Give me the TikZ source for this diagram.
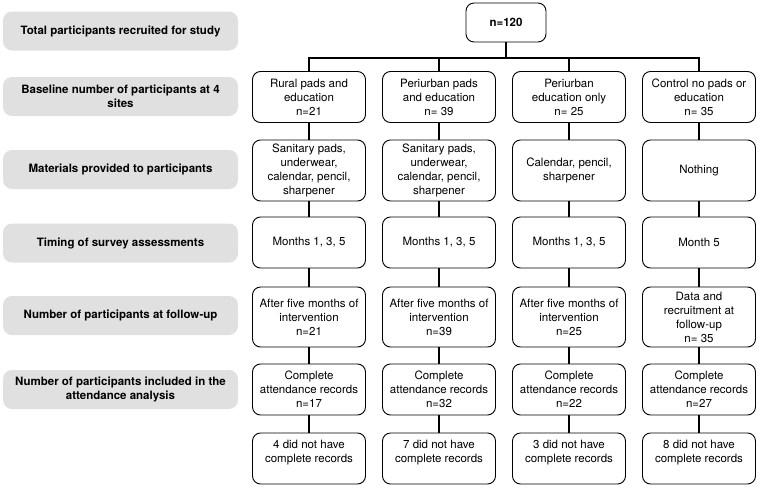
\documentclass[tikz,border=0pt]{standalone}
\usepackage{fontspec}
\setmainfont{TeX Gyre Heros}
\definecolor{labelgrey}{RGB}{224,224,224}
\begin{document}
\begin{tikzpicture}[x=1pt,y=-1pt,
    font=\fontsize{11.5}{14}\selectfont,
    rowlabel/.style={fill=labelgrey,rounded corners=9pt,minimum width=235pt,
      minimum height=39pt,align=center,inner sep=0pt,
      font=\fontsize{11.5}{14}\selectfont\bfseries},
    armbox/.style={draw,rounded corners=8pt,minimum width=113pt,
      align=center,inner sep=0pt,line width=0.9pt}]

  \useasboundingbox (0,0) rectangle (761,488);

  % row labels on the left
  \begin{scope}[every node/.style={rowlabel}]
    \node (L1) at (120.5,31)    {Total participants recruited for study};
    \node (L2) at (120.5,96.5)  {Baseline number of participants at 4\\sites};
    \node (L3) at (120.5,169.5) {Materials provided to participants};
    \node (L4) at (120.5,243)   {Timing of survey assessments};
    \node (L5) at (120.5,315.5) {Number of participants at follow-up};
    \node (L6) at (120.5,389.5) {Number of participants included in the\\attendance analysis};
  \end{scope}

  \node[armbox,minimum width=80pt,minimum height=39pt,font=\fontsize{11.5}{14}\selectfont\bfseries]
    (top) at (506,22.5) {n=120};
  \coordinate (split) at (506,58);

  \begin{scope}[every node/.style={armbox}]
    % sites
    \node[minimum height=51pt] (A1) at (309,97) {Rural pads and\\education\\n=21};
    \node[minimum height=51pt] (A2) at (439,97) {Periurban pads\\and education\\n= 39};
    \node[minimum height=51pt] (A3) at (569,97) {Periurban\\education only\\n= 25};
    \node[minimum height=51pt] (A4) at (699,97) {Control no pads or\\education\\n= 35};
    % materials
    \node[minimum height=61pt] (B1) at (309,170.5) {Sanitary pads,\\underwear,\\calendar, pencil,\\sharpener};
    \node[minimum height=61pt] (B2) at (439,170.5) {Sanitary pads,\\underwear,\\calendar, pencil,\\sharpener};
    \node[minimum height=61pt] (B3) at (569,170.5) {Calendar, pencil,\\sharpener};
    \node[minimum height=61pt] (B4) at (699,170.5) {Nothing};
    % timing
    \node[minimum height=51pt] (C1) at (309,242.5) {Months 1, 3, 5};
    \node[minimum height=51pt] (C2) at (439,242.5) {Months 1, 3, 5};
    \node[minimum height=51pt] (C3) at (569,242.5) {Months 1, 3, 5};
    \node[minimum height=51pt] (C4) at (699,242.5) {Month 5};
    % follow-up
    \node[minimum height=60pt] (D1) at (309,317) {After five months of\\intervention\\n=21};
    \node[minimum height=60pt] (D2) at (439,317) {After five months of\\intervention\\n=39};
    \node[minimum height=60pt] (D3) at (569,317) {After five months of\\intervention\\n=25};
    \node[minimum height=60pt] (D4) at (699,317) {Data and\\recruitment at\\follow-up\\n= 35};
    % attendance
    \node[minimum height=51pt] (E1) at (309,389.5) {Complete\\attendance records\\n=17};
    \node[minimum height=51pt] (E2) at (439,389.5) {Complete\\attendance records\\n=32};
    \node[minimum height=51pt] (E3) at (569,389.5) {Complete\\attendance records\\n=22};
    \node[minimum height=51pt] (E4) at (699,389.5) {Complete\\attendance records\\n=27};
    % missing records
    \node[minimum height=51pt] (F1) at (309,458.5) {4 did not have\\complete records\\~};
    \node[minimum height=51pt] (F2) at (439,458.5) {7 did not have\\complete records\\~};
    \node[minimum height=51pt] (F3) at (569,458.5) {3 did not have\\complete records\\~};
    \node[minimum height=51pt] (F4) at (699,458.5) {8 did not have\\complete records\\~};
  \end{scope}

  \begin{scope}[line width=1.8pt]
    \draw (top) -- (split);
    \draw (A1.north) -- (A1 |- split) -- (A4 |- split) -- (A4.north);
    \draw (A2.north) -- (A2 |- split);
    \draw (A3.north) -- (A3 |- split);

    \begin{scope}[every edge/.style={draw}]
      \path (A1) edge (B1);
      \path (A2) edge (B2);
      \path (A3) edge (B3);
      \path (A4) edge (B4);
      \path (B1) edge (C1);
      \path (B2) edge (C2);
      \path (B3) edge (C3);
      \path (B4) edge (C4);
      \path (C1) edge (D1);
      \path (C2) edge (D2);
      \path (C3) edge (D3);
      \path (C4) edge (D4);
      \path (D1) edge (E1);
      \path (D2) edge (E2);
      \path (D3) edge (E3);
      \path (D4) edge (E4);
      \path (E1) edge (F1);
      \path (E2) edge (F2);
      \path (E3) edge (F3);
      \path (E4) edge (F4);
    \end{scope}
  \end{scope}

\end{tikzpicture}
\end{document}
